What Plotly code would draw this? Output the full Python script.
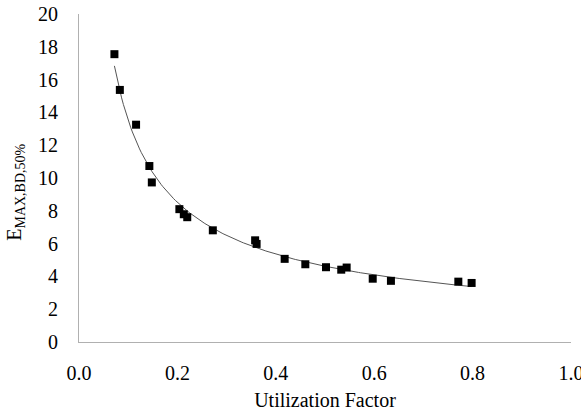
import numpy as np
import plotly.graph_objects as go

# Data
util_factor = [0.072, 0.083, 0.116, 0.143, 0.148, 0.204, 0.213, 0.220, 0.272,
               0.358, 0.361, 0.418, 0.460, 0.502, 0.533, 0.544, 0.597, 0.634,
               0.771, 0.798]
e_max = [17.55, 15.37, 13.25, 10.73, 9.73, 8.10, 7.79, 7.61, 6.81,
         6.20, 5.98, 5.07, 4.74, 4.56, 4.41, 4.54, 3.86, 3.73,
         3.68, 3.60]

x_ticks = [0.0, 0.2, 0.4, 0.6, 0.8, 1.0]
y_ticks = list(range(0, 21, 2))

# Power trendline (as Excel): y = a * x^b, fitted on the data
xa = np.array(util_factor)
ya = np.array(e_max)
b, ln_a = np.polyfit(np.log(xa), np.log(ya), 1)
a = np.exp(ln_a)
xf = np.linspace(xa.min(), xa.max(), 200)
yf = a * xf ** b

fig = go.Figure()
fig.add_trace(go.Scatter(x=xf, y=yf, mode="lines",
                         line=dict(color="#555555", width=1), hoverinfo="skip",
                         showlegend=False))
fig.add_trace(go.Scatter(x=util_factor, y=e_max, mode="markers",
                         marker=dict(symbol="square", size=8, color="black"),
                         showlegend=False))

font = dict(family="Liberation Serif, Times New Roman, DejaVu Serif, serif",
            size=20, color="black")
fig.update_layout(
    width=581, height=412,
    margin=dict(l=79, r=10, t=14, b=70, autoexpand=False),
    paper_bgcolor="white", plot_bgcolor="white",
    font=font,
    xaxis=dict(range=[0, 1], tickvals=x_ticks, tickformat=".1f",
               showgrid=False, zeroline=False, showline=True,
               linecolor="#b0b0b0", linewidth=1, ticks="",
               ticklabelstandoff=13, automargin=False,
               ticklabeloverflow="allow",
               tickfont=font,
               title=dict(text="Utilization Factor", standoff=9, font=font)),
    yaxis=dict(range=[0, 20], tickvals=y_ticks,
               showgrid=False, zeroline=False, showline=True,
               linecolor="#b0b0b0", linewidth=1, ticks="",
               ticklabelstandoff=16, automargin=False,
               tickfont=font),
)
fig.add_annotation(text="E<sub>MAX,BD,50%</sub>", textangle=-90,
                   xref="paper", yref="paper", x=-0.128, y=0.455,
                   xanchor="center", yanchor="middle", showarrow=False,
                   font=font)

fig.write_html("out.html", config={"displayModeBar": False},
               post_script="document.body.style.margin='0';document.body.style.padding='0';")
